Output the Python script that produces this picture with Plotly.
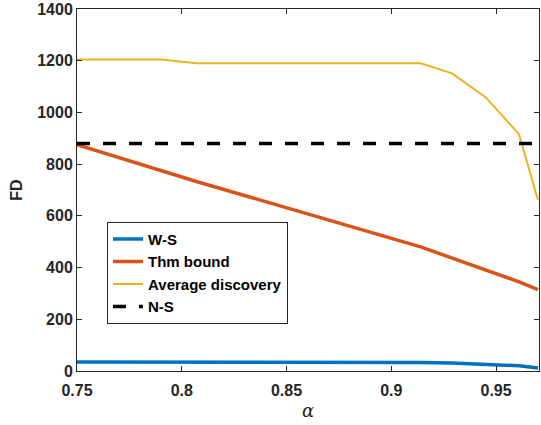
import plotly.graph_objects as go

# alpha sample points and FD values per method
alpha = [0.75, 0.79, 0.807, 0.914, 0.929, 0.945, 0.961, 0.97]
ws = [35, 35, 34, 33, 31, 27, 20, 12]
thm_bound = [875, 775, 733, 480, 437, 390, 345, 315]
avg_discovery = [1205, 1205, 1190, 1190, 1151, 1059, 915, 661]
ns_level = 880

blue, red, yellow = "#0072BD", "#D95319", "#EDB120"
font_fam = "Liberation Sans, Arial, sans-serif"
txt = "#262626"

fig = go.Figure()
fig.add_trace(go.Scatter(x=alpha, y=ws, mode="lines", name="W-S",
                         line=dict(color=blue, width=3.5)))
fig.add_trace(go.Scatter(x=alpha, y=thm_bound, mode="lines", name="Thm bound",
                         line=dict(color=red, width=3.5)))
fig.add_trace(go.Scatter(x=alpha, y=avg_discovery, mode="lines", name="Average discovery",
                         line=dict(color=yellow, width=2)))
fig.add_trace(go.Scatter(x=[alpha[0], alpha[-1]], y=[ns_level, ns_level], mode="lines",
                         name="N-S", line=dict(color="black", width=3.5, dash="13px,13px")))

axis_common = dict(
    showline=True, linecolor=txt, linewidth=1, mirror="ticks",
    ticks="inside", ticklen=5, tickcolor=txt, showgrid=False, zeroline=False,
    ticklabeloverflow="allow",
    tickfont=dict(family=font_fam, size=16, color=txt, weight="bold"),
)

fig.update_layout(
    width=541, height=425,
    margin=dict(l=77, r=1, t=7, b=54),
    plot_bgcolor="white", paper_bgcolor="white",
    xaxis=dict(range=[0.75, 0.9705], tickvals=[0.75, 0.8, 0.85, 0.9, 0.95],
               ticktext=["0.75", "0.8", "0.85", "0.9", "0.95"],
               ticklabelstandoff=5,
               title=dict(text="<i>α</i>", font=dict(family="DejaVu Serif, serif", size=18, color=txt),
                          standoff=6),
               **axis_common),
    yaxis=dict(range=[0, 1400], tickvals=list(range(0, 1401, 200)),
               title=dict(text="FD", font=dict(family=font_fam, size=16, color=txt, weight="bold"),
                          standoff=10),
               **axis_common),
    legend=dict(x=0.065, y=0.412, xanchor="left", yanchor="top",
                bgcolor="white", bordercolor=txt, borderwidth=1,
                font=dict(family=font_fam, size=15, color="black", weight="bold"),
                tracegroupgap=0, itemwidth=30),
    showlegend=True,
)

fig.write_html("out.html")
